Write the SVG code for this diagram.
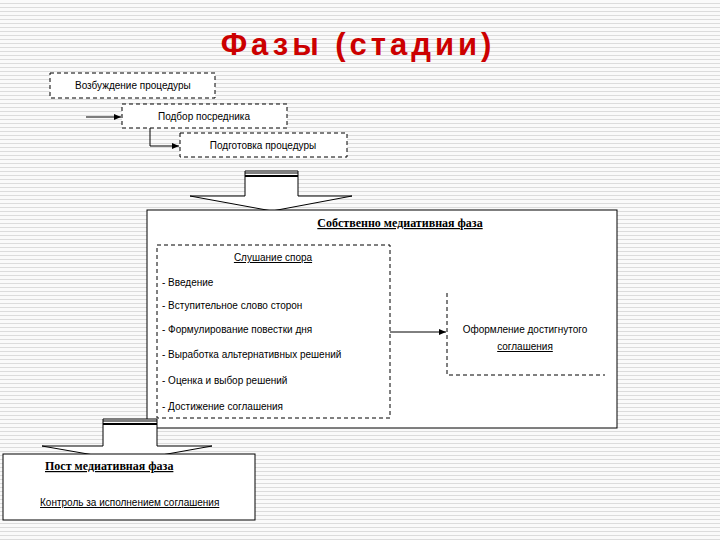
<svg xmlns="http://www.w3.org/2000/svg" width="720" height="540" viewBox="0 0 720 540">
<defs>
<pattern id="stripes" width="4" height="4" patternUnits="userSpaceOnUse"><rect width="4" height="4" fill="#fafafa"/><rect y="3" width="4" height="1" fill="#dcdcdc"/></pattern>
<marker id="ah" markerWidth="8" markerHeight="8" refX="7" refY="4" orient="auto" markerUnits="userSpaceOnUse"><path d="M0,1 L7,4 L0,7 z" fill="#000"/></marker>
<style>
.d{fill:#fff;stroke:#000;stroke-width:1;stroke-dasharray:4,3}
.s{fill:#fff;stroke:#000;stroke-width:1}
.t{font-family:"Liberation Sans",Arial,sans-serif;font-size:10px;fill:#000}
.b{font-family:"Liberation Serif","Times New Roman",serif;font-size:12px;font-weight:bold;fill:#000;text-decoration:underline}
.c{fill:none;stroke:#000;stroke-width:1}
</style>
</defs>
<rect width="720" height="540" fill="url(#stripes)"/>
<text x="358" y="55" text-anchor="middle" font-family="'Liberation Sans',Arial,sans-serif" font-size="31" font-weight="bold" fill="#cc0000" letter-spacing="4">Фазы (стадии)</text>

<g id="n1"><rect class="d" x="50" y="73" width="165" height="25"/><text class="t" x="75" y="89">Возбуждение процедуры</text></g>
<g id="n2"><rect class="d" x="122" y="104" width="165" height="24"/><text class="t" x="204" y="120" text-anchor="middle">Подбор посредника</text></g>
<g id="n3"><rect class="d" x="180" y="133" width="167" height="24"/><text class="t" x="263" y="149" text-anchor="middle">Подготовка процедуры</text></g>

<g id="arrow1">
<path class="s" d="M245,171 L298,171 L298,196 L352,196 L272,211 L190,196 L245,196 Z"/>
<line x1="245" y1="173" x2="298" y2="173" stroke="#000" stroke-width="1"/>
<line x1="245" y1="176" x2="298" y2="176" stroke="#000" stroke-width="2"/>
</g>

<g id="main">
<rect class="s" x="147" y="210" width="470" height="218"/>
<text class="b" x="400" y="227" text-anchor="middle">Собственно медиативная фаза</text>
</g>
<g id="hearing">
<rect class="d" x="157" y="245" width="233" height="173"/>
<text class="t" x="273" y="261" text-anchor="middle" text-decoration="underline">Слушание спора</text>
<text class="t" x="162" y="286">- Введение</text>
<text class="t" x="162" y="309">- Вступительное слово сторон</text>
<text class="t" x="162" y="333">- Формулирование повестки дня</text>
<text class="t" x="162" y="358">- Выработка альтернативных решений</text>
<text class="t" x="162" y="384">- Оценка и выбор решений</text>
<text class="t" x="162" y="410">- Достижение соглашения</text>
</g>
<g id="result">
<rect x="447" y="293" width="158" height="82" fill="#fff"/>
<path class="c" d="M447,293 L447,375 L605,375" stroke-dasharray="4,3"/>
<text class="t" x="525" y="333" text-anchor="middle">Оформление достигнутого</text>
<text class="t" x="525" y="350" text-anchor="middle" text-decoration="underline">соглашения</text>
</g>

<g id="arrow2">
<path class="s" d="M103,419 L157,419 L157,446 L212,446 L128,461 L42,446 L103,446 Z"/>
<line x1="103" y1="421" x2="157" y2="421" stroke="#000" stroke-width="1"/>
<line x1="103" y1="424" x2="157" y2="424" stroke="#000" stroke-width="2"/>
</g>
<g id="post">
<rect class="s" x="3" y="454" width="252" height="66"/>
<text class="b" x="45" y="470">Пост медиативная фаза</text>
<text class="t" x="40" y="506" text-decoration="underline">Контроль за исполнением соглашения</text>
</g>

<g id="connectors">
<line class="c" x1="86" y1="117" x2="121" y2="117" marker-end="url(#ah)"/>
<path class="c" d="M150,128 L150,146 L179,146" marker-end="url(#ah)"/>
<line class="c" x1="390" y1="332" x2="446" y2="332" marker-end="url(#ah)"/>
</g>
</svg>
